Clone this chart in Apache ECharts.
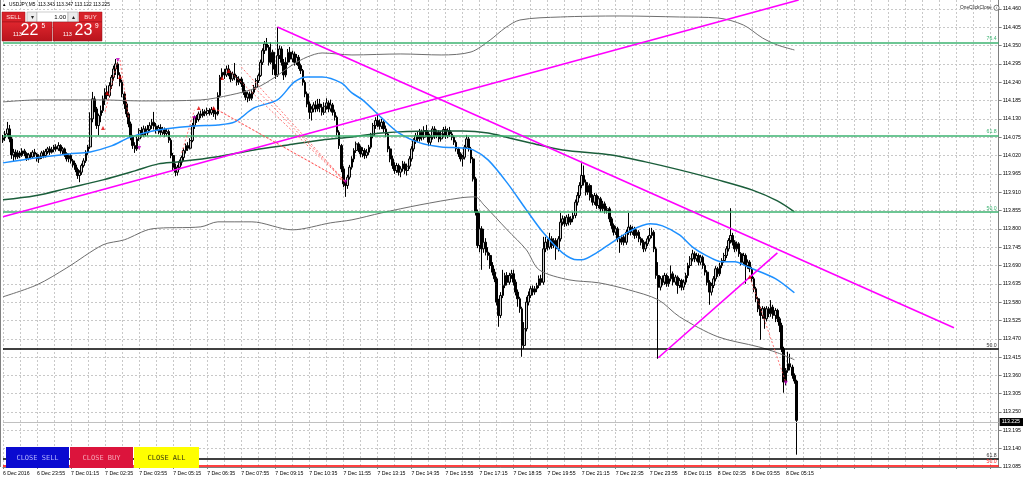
<!DOCTYPE html>
<html><head><meta charset="utf-8">
<script src="https://cdn.jsdelivr.net/npm/echarts@6/dist/echarts.min.js"></script>
<style>html,body{margin:0;padding:0;background:#fff}#c{width:1024px;height:480px}</style>
</head><body><div id="c"></div>
<script>
// ---- DATA ----
const tickLabels = ["6 Dec 2016","6 Dec 23:55","7 Dec 01:15","7 Dec 02:35","7 Dec 03:55","7 Dec 05:15","7 Dec 06:35","7 Dec 07:55","7 Dec 09:15","7 Dec 10:35","7 Dec 11:55","7 Dec 13:15","7 Dec 14:35","7 Dec 15:55","7 Dec 17:15","7 Dec 18:35","7 Dec 19:55","7 Dec 21:15","7 Dec 22:35","7 Dec 23:55","8 Dec 01:15","8 Dec 02:35","8 Dec 03:55","8 Dec 05:15"];
const yTicks = {min:113.085, max:114.487, step:0.055};
// [open, close, low, high]
const candles = [
[114.067,114.073,114.058,114.082],[114.073,114.085,114.064,114.094],[114.085,114.100,114.079,114.121],[114.100,114.070,114.060,114.112],
[114.070,114.022,114.010,114.076],[114.022,114.030,114.004,114.040],[114.030,114.016,114.008,114.038],[114.016,114.028,114.010,114.036],
[114.028,114.020,114.012,114.034],[114.020,114.034,114.016,114.042],[114.034,114.026,114.018,114.040],[114.026,114.012,114.004,114.030],
[114.012,114.022,114.006,114.028],[114.022,114.016,114.009,114.030],[114.016,114.030,114.012,114.036],[114.030,114.024,114.016,114.040],
[114.024,114.010,114.002,114.028],[114.010,114.018,113.998,114.024],[114.018,114.028,114.010,114.034],[114.028,114.020,114.012,114.036],
[114.020,114.032,114.014,114.040],[114.032,114.040,114.024,114.046],[114.040,114.030,114.022,114.048],[114.030,114.038,114.026,114.046],
[114.038,114.046,114.030,114.052],[114.046,114.040,114.032,114.054],[114.040,114.050,114.034,114.060],[114.050,114.034,114.026,114.054],
[114.034,114.040,114.024,114.046],[114.040,114.026,114.016,114.044],[114.026,114.010,114.002,114.030],[114.010,114.020,114.000,114.026],
[114.020,114.004,113.996,114.024],[114.004,113.992,113.984,114.010],[113.992,113.978,113.970,113.998],[113.978,113.960,113.950,113.984],
[113.960,113.970,113.940,113.976],[113.970,113.990,113.962,113.996],[113.990,114.004,113.984,114.012],[114.004,114.030,113.998,114.036],
[114.030,114.046,114.022,114.052],[114.046,114.130,114.040,114.150],[114.130,114.190,114.120,114.211],[114.190,114.160,114.150,114.198],
[114.160,114.110,114.100,114.166],[114.110,114.140,114.080,114.146],[114.140,114.155,114.120,114.170],[114.155,114.190,114.148,114.200],
[114.190,114.210,114.172,114.222],[114.210,114.200,114.188,114.230],[114.200,114.230,114.194,114.240],[114.230,114.255,114.220,114.262],
[114.255,114.280,114.245,114.290],[114.280,114.295,114.262,114.310],[114.295,114.262,114.250,114.300],[114.262,114.240,114.228,114.270],
[114.240,114.205,114.195,114.248],[114.205,114.175,114.160,114.212],[114.175,114.145,114.135,114.182],[114.145,114.115,114.105,114.150],
[114.115,114.075,114.066,114.122],[114.075,114.050,114.040,114.082],[114.050,114.040,114.028,114.060],[114.040,114.070,114.034,114.078],
[114.070,114.095,114.064,114.102],[114.095,114.082,114.074,114.106],[114.082,114.100,114.076,114.110],[114.100,114.088,114.078,114.108],
[114.088,114.098,114.080,114.112],[114.098,114.110,114.090,114.120],[114.110,114.120,114.100,114.130],[114.120,114.108,114.098,114.151],
[114.108,114.095,114.086,114.118],[114.095,114.104,114.084,114.112],[114.104,114.090,114.080,114.114],[114.090,114.098,114.082,114.106],
[114.098,114.086,114.076,114.104],[114.086,114.092,114.078,114.100],[114.092,114.066,114.058,114.098],[114.066,114.020,114.012,114.072],
[114.020,113.985,113.975,114.028],[113.985,113.970,113.958,113.996],[113.970,113.985,113.960,113.992],[113.985,114.000,113.978,114.008],
[114.000,114.014,113.990,114.020],[114.014,114.035,114.004,114.042],[114.035,114.050,114.026,114.056],[114.050,114.042,114.034,114.060],
[114.042,114.065,114.038,114.072],[114.065,114.110,114.060,114.118],[114.110,114.135,114.100,114.140],[114.135,114.128,114.118,114.142],
[114.128,114.145,114.122,114.152],[114.145,114.140,114.132,114.155],[114.140,114.152,114.134,114.160],[114.152,114.146,114.138,114.158],
[114.146,114.155,114.140,114.164],[114.155,114.148,114.140,114.162],[114.148,114.158,114.142,114.166],[114.158,114.150,114.136,114.164],
[114.150,114.145,114.128,114.156],[114.145,114.200,114.140,114.210],[114.200,114.255,114.195,114.262],[114.255,114.270,114.248,114.282],
[114.270,114.262,114.250,114.280],[114.262,114.280,114.256,114.290],[114.280,114.268,114.258,114.292],[114.268,114.250,114.240,114.275],
[114.250,114.265,114.244,114.272],[114.265,114.255,114.246,114.298],[114.255,114.240,114.230,114.262],[114.240,114.250,114.232,114.258],
[114.250,114.235,114.226,114.256],[114.235,114.210,114.202,114.240],[114.210,114.195,114.186,114.216],[114.195,114.205,114.180,114.212],
[114.205,114.192,114.184,114.212],[114.192,114.210,114.186,114.216],[114.210,114.225,114.204,114.232],[114.225,114.245,114.218,114.252],
[114.245,114.260,114.238,114.266],[114.260,114.300,114.256,114.308],[114.300,114.335,114.292,114.342],[114.335,114.355,114.325,114.364],
[114.355,114.345,114.335,114.373],[114.345,114.300,114.290,114.352],[114.300,114.330,114.294,114.360],[114.330,114.280,114.262,114.338],
[114.280,114.262,114.250,114.295],[114.262,114.320,114.256,114.406],[114.320,114.340,114.310,114.350],[114.340,114.300,114.290,114.348],
[114.300,114.262,114.247,114.310],[114.262,114.300,114.255,114.315],[114.300,114.330,114.292,114.340],[114.330,114.310,114.300,114.346],
[114.310,114.325,114.300,114.335],[114.325,114.300,114.290,114.332],[114.300,114.315,114.292,114.325],[114.315,114.290,114.280,114.322],
[114.290,114.275,114.265,114.296],[114.275,114.240,114.230,114.280],[114.240,114.205,114.195,114.246],[114.205,114.175,114.165,114.212],
[114.175,114.150,114.130,114.182],[114.150,114.160,114.125,114.168],[114.160,114.172,114.150,114.180],[114.172,114.160,114.150,114.184],
[114.160,114.175,114.152,114.190],[114.175,114.165,114.150,114.190],[114.165,114.150,114.140,114.175],[114.150,114.168,114.142,114.180],
[114.168,114.178,114.158,114.192],[114.178,114.160,114.150,114.185],[114.160,114.172,114.152,114.188],[114.172,114.150,114.140,114.178],
[114.150,114.135,114.125,114.158],[114.135,114.090,114.080,114.140],[114.090,114.050,114.040,114.096],[114.050,113.980,113.970,114.055],
[113.980,113.935,113.925,113.988],[113.935,113.930,113.896,113.945],[113.930,113.955,113.920,113.962],[113.955,113.985,113.948,113.992],
[113.985,114.010,113.978,114.018],[114.010,114.035,114.000,114.042],[114.035,114.055,114.028,114.062],[114.055,114.045,114.030,114.060],
[114.045,114.025,114.015,114.050],[114.025,114.035,114.015,114.045],[114.035,114.020,114.010,114.042],[114.020,114.030,114.012,114.040],
[114.030,114.045,114.022,114.052],[114.045,114.080,114.040,114.088],[114.080,114.110,114.072,114.118],[114.110,114.125,114.100,114.135],
[114.125,114.118,114.105,114.142],[114.118,114.108,114.098,114.128],[114.108,114.120,114.100,114.130],[114.120,114.100,114.090,114.126],
[114.100,114.085,114.075,114.110],[114.085,114.040,114.030,114.090],[114.040,114.010,114.000,114.048],[114.010,113.990,113.980,114.020],
[113.990,113.975,113.965,114.000],[113.975,113.990,113.968,113.998],[113.990,113.970,113.960,113.996],[113.970,113.980,113.955,113.988],
[113.980,113.995,113.972,114.004],[113.995,113.975,113.965,114.002],[113.975,113.988,113.960,113.996],[113.988,114.010,113.980,114.018],
[114.010,114.040,114.002,114.048],[114.040,114.065,114.032,114.072],[114.065,114.080,114.055,114.088],[114.080,114.070,114.060,114.092],
[114.070,114.090,114.062,114.100],[114.090,114.075,114.065,114.098],[114.075,114.095,114.068,114.108],[114.095,114.085,114.075,114.112],
[114.085,114.060,114.048,114.092],[114.060,114.075,114.050,114.082],[114.075,114.100,114.068,114.108],[114.100,114.080,114.070,114.108],
[114.080,114.090,114.072,114.098],[114.090,114.070,114.060,114.096],[114.070,114.085,114.062,114.094],[114.085,114.098,114.075,114.106],
[114.098,114.080,114.070,114.108],[114.080,114.095,114.072,114.102],[114.095,114.085,114.076,114.106],[114.085,114.075,114.066,114.092],
[114.075,114.060,114.052,114.080],[114.060,114.040,114.032,114.066],[114.040,114.025,114.016,114.046],[114.025,114.010,114.002,114.030],
[114.010,114.015,113.987,114.022],[114.015,114.045,114.008,114.052],[114.045,114.070,114.040,114.082],[114.070,114.040,114.032,114.076],
[114.040,114.010,113.997,114.046],[114.010,113.950,113.942,114.016],[113.950,113.850,113.840,113.956],[113.850,113.750,113.742,113.858],
[113.750,113.800,113.730,113.847],[113.800,113.740,113.677,113.808],[113.740,113.760,113.728,113.800],[113.760,113.730,113.720,113.772],
[113.730,113.720,113.706,113.745],[113.720,113.690,113.680,113.728],[113.690,113.670,113.660,113.700],[113.670,113.650,113.640,113.680],
[113.650,113.580,113.570,113.656],[113.580,113.540,113.506,113.590],[113.540,113.600,113.532,113.610],[113.600,113.630,113.592,113.677],
[113.630,113.660,113.622,113.668],[113.660,113.640,113.630,113.670],[113.640,113.660,113.632,113.668],[113.660,113.665,113.650,113.677],
[113.665,113.640,113.630,113.677],[113.640,113.610,113.600,113.648],[113.610,113.590,113.566,113.618],[113.590,113.560,113.548,113.596],
[113.560,113.450,113.416,113.566],[113.450,113.500,113.440,113.520],[113.500,113.580,113.492,113.596],[113.580,113.600,113.570,113.612],
[113.600,113.620,113.592,113.628],[113.620,113.610,113.600,113.630],[113.610,113.620,113.602,113.628],[113.620,113.630,113.610,113.638],
[113.630,113.650,113.622,113.660],[113.650,113.640,113.630,113.662],[113.640,113.740,113.632,113.776],[113.740,113.760,113.730,113.776],
[113.760,113.745,113.735,113.770],[113.745,113.770,113.738,113.788],[113.770,113.750,113.740,113.778],[113.750,113.765,113.742,113.772],
[113.765,113.740,113.707,113.772],[113.740,113.770,113.732,113.778],[113.770,113.820,113.762,113.848],[113.820,113.830,113.810,113.840],
[113.830,113.815,113.806,113.838],[113.815,113.835,113.808,113.842],[113.835,113.820,113.810,113.845],[113.820,113.830,113.812,113.838],
[113.830,113.840,113.820,113.850],[113.840,113.880,113.832,113.888],[113.880,113.900,113.870,113.910],[113.900,113.930,113.892,113.940],
[113.930,113.960,113.922,113.997],[113.960,113.940,113.930,113.990],[113.940,113.910,113.900,113.948],[113.910,113.930,113.902,113.940],
[113.930,113.895,113.885,113.936],[113.895,113.880,113.870,113.904],[113.880,113.900,113.872,113.908],[113.900,113.870,113.860,113.906],
[113.870,113.890,113.862,113.898],[113.890,113.860,113.850,113.896],[113.860,113.875,113.852,113.884],[113.875,113.855,113.846,113.882],
[113.855,113.860,113.846,113.868],[113.860,113.830,113.820,113.866],[113.830,113.810,113.800,113.836],[113.810,113.790,113.780,113.816],
[113.790,113.800,113.782,113.808],[113.800,113.770,113.760,113.806],[113.770,113.760,113.728,113.778],[113.760,113.775,113.752,113.782],
[113.775,113.760,113.750,113.782],[113.760,113.790,113.752,113.798],[113.790,113.805,113.782,113.848],[113.805,113.790,113.780,113.812],
[113.790,113.800,113.782,113.808],[113.800,113.780,113.770,113.806],[113.780,113.790,113.772,113.798],[113.790,113.770,113.760,113.796],
[113.770,113.760,113.750,113.776],[113.760,113.740,113.730,113.766],[113.740,113.755,113.732,113.762],[113.755,113.770,113.748,113.778],
[113.770,113.780,113.762,113.803],[113.780,113.790,113.772,113.803],[113.790,113.740,113.730,113.796],[113.740,113.660,113.650,113.746],
[113.660,113.625,113.410,113.700],[113.625,113.650,113.615,113.658],[113.650,113.640,113.630,113.660],[113.640,113.660,113.632,113.668],
[113.660,113.635,113.626,113.666],[113.635,113.650,113.626,113.658],[113.650,113.665,113.642,113.690],[113.665,113.640,113.630,113.672],
[113.640,113.655,113.632,113.662],[113.655,113.630,113.605,113.660],[113.630,113.645,113.622,113.652],[113.645,113.625,113.615,113.650],
[113.625,113.640,113.616,113.648],[113.640,113.660,113.632,113.668],[113.660,113.690,113.652,113.698],[113.690,113.710,113.682,113.718],
[113.710,113.725,113.702,113.737],[113.725,113.710,113.700,113.732],[113.710,113.720,113.702,113.728],[113.720,113.700,113.690,113.726],
[113.700,113.715,113.692,113.722],[113.715,113.690,113.680,113.720],[113.690,113.670,113.660,113.696],[113.670,113.640,113.630,113.676],
[113.640,113.610,113.572,113.646],[113.610,113.630,113.600,113.638],[113.630,113.650,113.622,113.658],[113.650,113.680,113.642,113.688],
[113.680,113.665,113.656,113.686],[113.665,113.690,113.658,113.698],[113.690,113.705,113.682,113.712],[113.705,113.720,113.698,113.728],
[113.720,113.740,113.712,113.748],[113.740,113.765,113.732,113.772],[113.765,113.780,113.756,113.862],[113.780,113.760,113.750,113.788],
[113.760,113.740,113.730,113.766],[113.740,113.755,113.732,113.762],[113.755,113.725,113.716,113.760],[113.725,113.700,113.690,113.730],
[113.700,113.720,113.692,113.728],[113.720,113.690,113.635,113.726],[113.690,113.700,113.680,113.708],[113.700,113.680,113.670,113.706],
[113.680,113.650,113.640,113.686],[113.650,113.620,113.610,113.656],[113.620,113.590,113.580,113.626],[113.590,113.560,113.550,113.596],
[113.560,113.540,113.467,113.566],[113.540,113.560,113.530,113.568],[113.560,113.530,113.500,113.566],[113.530,113.560,113.522,113.568],
[113.560,113.545,113.535,113.566],[113.545,113.565,113.536,113.586],[113.565,113.540,113.530,113.572],[113.540,113.555,113.520,113.562],
[113.555,113.530,113.520,113.560],[113.530,113.510,113.490,113.536],[113.510,113.440,113.430,113.518],[113.440,113.340,113.308,113.446],
[113.340,113.375,113.330,113.382],[113.375,113.395,113.368,113.431],[113.395,113.385,113.375,113.425],[113.385,113.360,113.350,113.392],
[113.360,113.343,113.335,113.366],[113.343,113.225,113.122,113.347]
];
// moving averages / bands read at sampled bars: [barIndex, price]
const maBlue = [[0,113.998],[15,114.013],[31,114.025],[41,114.031],[51,114.049],[59,114.073],[68,114.091],[76,114.100],[90,114.109],[101,114.112],[109,114.121],[118,114.163],[129,114.187],[137,114.241],[143,114.256],[150,114.256],[159,114.238],[164,114.208],[169,114.187],[178,114.133],[186,114.088],[196,114.058],[206,114.046],[216,114.043],[221,114.037],[228,114.007],[237,113.938],[246,113.857],[254,113.788],[263,113.728],[270,113.707],[272,113.707],[279,113.728],[286,113.758],[294,113.791],[304,113.815],[310,113.809],[318,113.782],[324,113.746],[330,113.722],[338,113.701],[344,113.701],[350,113.686],[357,113.668],[364,113.647],[372,113.608]];
const maGreen = [[0,113.887],[15,113.899],[31,113.923],[47,113.947],[62,113.974],[73,113.995],[82,114.001],[100,114.016],[118,114.037],[134,114.052],[150,114.067],[164,114.076],[178,114.088],[201,114.094],[216,114.094],[228,114.088],[238,114.073],[248,114.058],[263,114.037],[286,114.022],[302,114.001],[318,113.977],[336,113.947],[352,113.917],[364,113.884],[372,113.851]];
const bandUpper = [[0,114.181],[16,114.187],[47,114.187],[65,114.184],[93,114.187],[107,114.202],[119,114.223],[128,114.256],[136,114.292],[143,114.316],[150,114.328],[164,114.322],[187,114.325],[206,114.322],[220,114.331],[229,114.367],[236,114.403],[243,114.427],[262,114.436],[290,114.439],[318,114.436],[336,114.433],[348,114.412],[357,114.373],[364,114.352],[372,114.337]];
const bandLower = [[0,113.596],[16,113.632],[30,113.683],[47,113.752],[57,113.767],[70,113.800],[93,113.806],[101,113.821],[117,113.821],[136,113.797],[154,113.818],[164,113.827],[178,113.848],[196,113.872],[215,113.893],[222,113.896],[226,113.872],[237,113.797],[246,113.737],[252,113.677],[266,113.647],[280,113.638],[294,113.617],[308,113.587],[318,113.536],[336,113.476],[355,113.446],[364,113.428],[372,113.407]];
const fiboGreenValues = [114.364, 114.076, 113.849];
const fiboGreenTexts = ['76.4','61.8','50.0'];
const fiboBlackValues = [113.439, 113.113];
const fiboBlackTexts = ['50.0','61.8'];
const fiboRedValues = [113.090];
const fiboRedTexts = ['50.0'];
const bidPrice = 113.225;
const trendLines = [[[0,113.836],[374,114.487]], [[129,114.406],[447,113.503]], [[308,113.413],[364,113.728]]];
const tradeLines = [[[48,114.151],[54,114.307]],[[55,114.307],[59,114.133]],[[84,114.028],[90,114.157]],[[101,114.157],[161,113.941]],[[106,114.277],[161,113.941]],[[112,114.286],[161,113.941]],[[117,114.232],[161,113.941]],[[99,114.163],[161,113.941]],[[351,113.656],[368,113.338]]];
const tradeMarksRed = [[49,114.208],[47,114.103],[55,114.256],[92,114.163],[99,114.163],[103,114.253],[106,114.274],[351,113.656]];
const tradeMarksMagenta = [[64,114.043],[90,114.133],[161,113.941],[368,113.338],[54,114.307]];
const headerText = 'USDJPY,M5  113.343 113.347 113.122 113.225';

// ---- categories (5-minute bars) ----
const categories = [];
const pad = n => (n < 10 ? '0' : '') + n;
for (let i = 0; i < 469; i++) {
  const d = new Date(Date.UTC(2016, 11, 6, 22, 35) + i * 300000);
  categories.push(d.getUTCDate() + ' Dec ' + pad(d.getUTCHours()) + ':' + pad(d.getUTCMinutes()));
}

const chart = echarts.init(document.getElementById('c'), null, {renderer: 'canvas'});
const F = '"Liberation Sans", Arial, sans-serif';
const MONO = '"DejaVu Sans Mono", "Liberation Mono", monospace';

const hLines = [];
fiboGreenValues.forEach((v, k) => hLines.push({yAxis: v, lineStyle: {color: '#3cb371', width: 1.5, type: 'solid'}, label: {formatter: fiboGreenTexts[k], color: '#3cb371'}}));
fiboBlackValues.forEach((v, k) => hLines.push({yAxis: v, lineStyle: {color: '#000', width: 1.5, type: 'solid'}, label: {formatter: fiboBlackTexts[k], color: '#333'}}));
fiboRedValues.forEach((v, k) => hLines.push({yAxis: v, lineStyle: {color: '#ff0000', width: 1.5, type: 'solid'}, label: {formatter: fiboRedTexts[k], color: '#ff3030'}}));

const bidLine = {yAxis: bidPrice, lineStyle: {color: '#c0c0c0', width: 1, type: 'solid'},
  label: {show: true, position: 'end', formatter: bidPrice.toFixed(3), backgroundColor: '#000', color: '#fff', fontSize: 5.2, fontFamily: F, padding: [2, 3, 1, 2], distance: 1}};

const tl = trendLines.map(seg => [{coord: seg[0]}, {coord: seg[1]}]);
const tr = tradeLines.map(seg => [{coord: seg[0]}, {coord: seg[1]}]);

const option = {
  animation: false,
  backgroundColor: '#fff',
  grid: {left: 0, right: 23, top: 0, bottom: 13, containLabel: false},
  xAxis: {
    type: 'category', data: categories, boundaryGap: false,
    axisLine: {lineStyle: {color: '#808080'}},
    axisTick: {show: true, interval: (i) => i % 16 === 0, length: 2, lineStyle: {color: '#808080'}},
    axisLabel: {interval: (i) => i % 16 === 0 && i <= 368, formatter: (v, i) => tickLabels[i / 16] || '', align: 'left', fontSize: 5.2, fontFamily: F, color: '#000', margin: 4},
    splitLine: {show: true, interval: (i) => i % 8 === 0, lineStyle: {color: '#c8c8c8', type: [2, 2], width: 1}}
  },
  yAxis: {
    type: 'value', position: 'right', min: yTicks.min, max: yTicks.max, interval: yTicks.step,
    axisLine: {show: true, lineStyle: {color: '#808080'}},
    axisTick: {show: true, length: 3, lineStyle: {color: '#808080'}},
    axisLabel: {fontSize: 5.2, fontFamily: F, color: '#000', margin: 4, showMaxLabel: false, formatter: v => v.toFixed(3)},
    splitLine: {show: true, showMaxLine: false, lineStyle: {color: '#c8c8c8', type: [2, 2], width: 1}}
  },
  series: [
    {type: 'candlestick', name: 'USDJPY', data: candles, barWidth: 2.2, z: 2,
     itemStyle: {color: '#d0d0d0', color0: '#000000', borderColor: '#000000', borderColor0: '#000000', borderWidth: 1}},
    {type: 'line', name: 'band upper', data: bandUpper, smooth: 0.3, symbol: 'none', z: 3, lineStyle: {color: '#6e6e6e', width: 1}},
    {type: 'line', name: 'band lower', data: bandLower, smooth: 0.3, symbol: 'none', z: 3, lineStyle: {color: '#6e6e6e', width: 1}},
    {type: 'line', name: 'MA green', data: maGreen, smooth: 0.3, symbol: 'none', z: 3, lineStyle: {color: '#1b5e3b', width: 1.5}},
    {type: 'line', name: 'MA blue', data: maBlue, smooth: 0.3, symbol: 'none', z: 3, lineStyle: {color: '#1e90ff', width: 1.5}},
    {type: 'line', name: 'levels', data: [], z: 4, silent: true,
     markLine: {silent: true, symbol: 'none', animation: false,
       label: {show: true, position: 'insideEndTop', fontSize: 5.2, fontFamily: F, distance: [2, 1]},
       data: hLines.concat([bidLine])}},
    {type: 'line', name: 'trend', data: [], z: 5, silent: true,
     markLine: {silent: true, symbol: 'none', animation: false, label: {show: false},
       lineStyle: {color: '#ff00ff', width: 1.6, type: 'solid'}, data: tl}},
    {type: 'line', name: 'trades', data: [], z: 4, silent: true,
     markLine: {silent: true, symbol: 'none', animation: false, label: {show: false},
       lineStyle: {color: '#ff5050', width: 0.8, type: [2, 2]}, data: tr}},
    {type: 'scatter', name: 'buy marks', data: tradeMarksRed, symbol: 'triangle', symbolSize: 4, z: 6, itemStyle: {color: '#e00000'}},
    {type: 'scatter', name: 'sell marks', data: tradeMarksMagenta, symbol: 'triangle', symbolSize: 4, symbolRotate: 180, z: 6, itemStyle: {color: '#c000c0'}}
  ],
  graphic: [
    {type: 'line', shape: {x1: 0.5, y1: 0, x2: 0.5, y2: 467}, style: {stroke: '#808080', lineWidth: 1}, z: 10},
    {type: 'text', left: 2, top: 2, style: {text: '▲', fontSize: 4.5, fill: '#000', fontFamily: F}, z: 20},
    {type: 'text', left: 9, top: 2, style: {text: headerText, fontSize: 4.8, fill: '#000', fontFamily: F}, z: 20},
    {type: 'text', left: 960, top: 5, style: {text: 'OneClickClose', fontSize: 4.8, fill: '#222', fontFamily: F}, z: 20},
    {type: 'circle', shape: {cx: 996.5, cy: 7.8, r: 2.6}, style: {fill: '#fff', stroke: '#555', lineWidth: 0.8}, z: 20},
    {type: 'text', x: 996.5, y: 7.8, style: {text: 'i', fontSize: 4, fill: '#333', align: 'center', verticalAlign: 'middle', fontFamily: F}, z: 21},
    // One-click trading panel
    {type: 'rect', shape: {x: 2, y: 12, width: 23, height: 10}, style: {fill: '#d8222a', stroke: '#a01018', lineWidth: 0.5}, z: 20},
    {type: 'text', x: 13.5, y: 17.3, style: {text: 'SELL', fontSize: 6, fill: '#ffe0e0', align: 'center', verticalAlign: 'middle', fontFamily: F}, z: 21},
    {type: 'rect', shape: {x: 27, y: 12, width: 10, height: 10}, style: {fill: '#ececec', stroke: '#9a9a9a', lineWidth: 0.5}, z: 20},
    {type: 'text', x: 32, y: 17, style: {text: '▾', fontSize: 6, fill: '#222', align: 'center', verticalAlign: 'middle', fontFamily: F}, z: 21},
    {type: 'rect', shape: {x: 37, y: 12, width: 31, height: 10}, style: {fill: '#ffffff', stroke: '#9a9a9a', lineWidth: 0.5}, z: 20},
    {type: 'text', x: 66, y: 17.3, style: {text: '1.00', fontSize: 6, fill: '#000', align: 'right', verticalAlign: 'middle', fontFamily: F}, z: 21},
    {type: 'rect', shape: {x: 68, y: 12, width: 10, height: 10}, style: {fill: '#ececec', stroke: '#9a9a9a', lineWidth: 0.5}, z: 20},
    {type: 'text', x: 73, y: 17, style: {text: '▴', fontSize: 6, fill: '#222', align: 'center', verticalAlign: 'middle', fontFamily: F}, z: 21},
    {type: 'rect', shape: {x: 79, y: 12, width: 23, height: 10}, style: {fill: '#d8222a', stroke: '#a01018', lineWidth: 0.5}, z: 20},
    {type: 'text', x: 90.5, y: 17.3, style: {text: 'BUY', fontSize: 6, fill: '#ffe0e0', align: 'center', verticalAlign: 'middle', fontFamily: F}, z: 21},
    {type: 'rect', shape: {x: 2, y: 22, width: 50, height: 19},
     style: {fill: new echarts.graphic.LinearGradient(0, 0, 0, 1, [{offset: 0, color: '#e0262e'}, {offset: 1, color: '#b8141c'}]), stroke: '#901018', lineWidth: 0.5}, z: 20},
    {type: 'rect', shape: {x: 53, y: 22, width: 49, height: 19},
     style: {fill: new echarts.graphic.LinearGradient(0, 0, 0, 1, [{offset: 0, color: '#e0262e'}, {offset: 1, color: '#b8141c'}]), stroke: '#901018', lineWidth: 0.5}, z: 20},
    {type: 'text', x: 13, y: 37.5, style: {text: '113', fontSize: 5.5, fill: '#fff', verticalAlign: 'bottom', fontFamily: F}, z: 21},
    {type: 'text', x: 20.5, y: 39, style: {text: '22', fontSize: 16, fill: '#fff', verticalAlign: 'bottom', fontFamily: F}, z: 21},
    {type: 'text', x: 41.5, y: 23, style: {text: '5', fontSize: 6.5, fill: '#fff', fontFamily: F}, z: 21},
    {type: 'text', x: 63, y: 37.5, style: {text: '113', fontSize: 5.5, fill: '#fff', verticalAlign: 'bottom', fontFamily: F}, z: 21},
    {type: 'text', x: 74.5, y: 39, style: {text: '23', fontSize: 16, fill: '#fff', verticalAlign: 'bottom', fontFamily: F}, z: 21},
    {type: 'text', x: 95, y: 23, style: {text: '9', fontSize: 6.5, fill: '#fff', fontFamily: F}, z: 21},
    // Close buttons
    {type: 'rect', shape: {x: 6, y: 447, width: 63, height: 21}, style: {fill: '#0a0ad0'}, z: 20},
    {type: 'text', x: 37.5, y: 458, style: {text: 'CLOSE SELL', fontSize: 7, fill: '#b4b4ff', align: 'center', verticalAlign: 'middle', fontFamily: MONO}, z: 21},
    {type: 'rect', shape: {x: 70, y: 447, width: 63, height: 21}, style: {fill: '#dc143c'}, z: 20},
    {type: 'text', x: 101.5, y: 458, style: {text: 'CLOSE BUY', fontSize: 7, fill: '#f6a6b8', align: 'center', verticalAlign: 'middle', fontFamily: MONO}, z: 21},
    {type: 'rect', shape: {x: 134, y: 447, width: 65, height: 21}, style: {fill: '#ffff00'}, z: 20},
    {type: 'text', x: 166.5, y: 458, style: {text: 'CLOSE ALL', fontSize: 7, fill: '#3a3a10', align: 'center', verticalAlign: 'middle', fontFamily: MONO}, z: 21}
  ]
};
chart.setOption(option);
</script>
</body></html>
